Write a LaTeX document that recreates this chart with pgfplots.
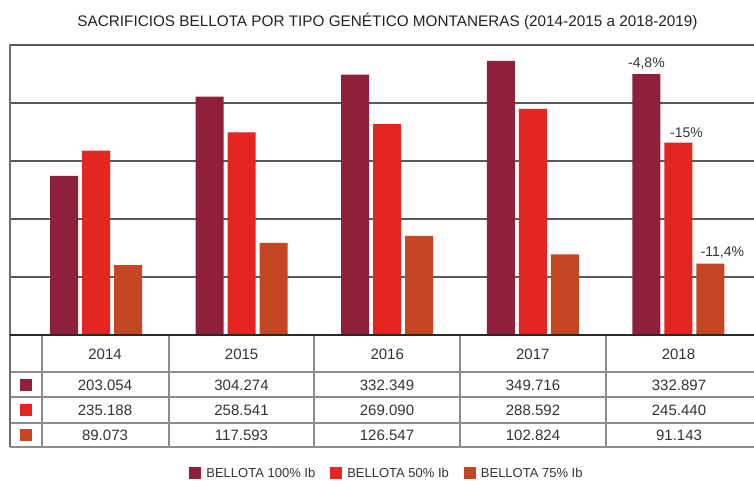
\documentclass[border=0pt]{standalone}
\usepackage{fontspec}
\setmainfont{Liberation Sans}
\usepackage{pgfplots}
\usepackage{pgfplotstable}
\pgfplotsset{compat=1.18}
\definecolor{cDark}{RGB}{142,32,58}
\definecolor{cRed}{RGB}{228,38,32}
\definecolor{cOra}{RGB}{197,70,35}
\definecolor{gridc}{RGB}{90,90,90}
\definecolor{tabc}{RGB}{140,140,140}
\definecolor{txt}{RGB}{51,51,51}

\pgfplotstableread{
x y lab
0 203054 {}
1 304274 {}
2 332349 {}
3 349716 {}
4 332897 {-4,8\%}
}\tDark
\pgfplotstableread{
x y lab
0 235188 {}
1 258541 {}
2 269090 {}
3 288592 {}
4 245440 {-15\%}
}\tRed
\pgfplotstableread{
x y lab
0 89073 {}
1 117593 {}
2 126547 {}
3 102824 {}
4 91143 {-11,4\%}
}\tOra

\pgfplotsset{sqleg/.style={legend image code/.code={\fill[##1,draw=none] (0pt,-6pt) rectangle (12pt,6pt);}}}

\begin{document}
\begin{tikzpicture}[x=1pt,y=1pt]
\useasboundingbox (0,0) rectangle (754,480);
\node[anchor=base, font=\fontsize{15.3}{18}\selectfont, text={rgb,255:red,34;green,34;blue,34}] at (387.5,453) {SACRIFICIOS BELLOTA POR TIPO GENÉTICO MONTANERAS (2014-2015 a 2018-2019)};
\begin{axis}[
  at={(10pt,145pt)}, anchor=south west,
  scale only axis, width=744pt, height=290pt,
  ybar=4pt, bar width=28pt,
  xmin=-0.5907, xmax=4.519,
  ymin=0, ymax=370000,
  ytick={0,74000,148000,222000,296000,370000},
  scaled y ticks=false,
  yticklabel=\empty,
  ymajorgrids, grid style={draw=gridc, line width=1.4pt},
  xtick={0.062,1,2,3,4},
  xticklabels={2014,2015,2016,2017,2018},
  xticklabel style={anchor=base, yshift=-24.5pt, font=\fontsize{15}{18}\selectfont, text=txt},
  major tick length=0pt,
  axis line style={draw=none},
  point meta=explicit symbolic,
  nodes near coords={\pgfplotspointmeta},
  every node near coord/.append style={anchor=south, inner sep=2pt, yshift=3pt, font=\fontsize{14}{16}\selectfont, text=txt},
  legend style={draw=none, fill=none, at={(0.5067,-0.476)}, anchor=center, legend columns=3,
    font=\fontsize{13}{15}\selectfont, text=txt,
    /tikz/every even column/.append style={column sep=13pt},
    /tikz/every odd column/.append style={column sep=3pt}},
]
\addplot[fill=cDark, draw=none, sqleg] table[x=x, y=y, meta=lab] {\tDark};
\addplot[fill=cRed, draw=none, sqleg, every node near coord/.append style={xshift=8pt}] table[x=x, y=y, meta=lab] {\tRed};
\addplot[fill=cOra, draw=none, sqleg, every node near coord/.append style={xshift=12pt}] table[x=x, y=y, meta=lab] {\tOra};
\legend{BELLOTA 100\% Ib, BELLOTA 50\% Ib, BELLOTA 75\% Ib}
\end{axis}
% table grid
\begin{scope}[draw=tabc, line width=1.5pt]
\foreach \yy in {108,83,57,33} \draw (10,\yy) -- (754,\yy);
\foreach \xx in {42,169,314,460,606} \draw (\xx,145) -- (\xx,33);
\end{scope}
\draw[draw={rgb,255:red,110;green,110;blue,110}, line width=1.5pt] (10,33) -- (10,435.7);
\draw[draw={rgb,255:red,40;green,40;blue,40}, line width=1.5pt] (10,145) -- (754,145);
% key squares
\fill[cDark] (20,89) rectangle (32,101);
\fill[cRed] (20,64) rectangle (32,76);
\fill[cOra] (20,39) rectangle (32,51);
% table values
\begin{scope}[every node/.style={anchor=base, font=\fontsize{15}{18}\selectfont, text=txt, inner sep=0pt}]
\node at (105,89.5) {203.054};
\node at (241.5,89.5) {304.274};
\node at (387,89.5) {332.349};
\node at (533,89.5) {349.716};
\node at (679,89.5) {332.897};
\node at (105,64.5) {235.188};
\node at (241.5,64.5) {258.541};
\node at (387,64.5) {269.090};
\node at (533,64.5) {288.592};
\node at (679,64.5) {245.440};
\node at (105,39.5) {89.073};
\node at (241.5,39.5) {117.593};
\node at (387,39.5) {126.547};
\node at (533,39.5) {102.824};
\node at (679,39.5) {91.143};
\end{scope}
\end{tikzpicture}
\end{document}
